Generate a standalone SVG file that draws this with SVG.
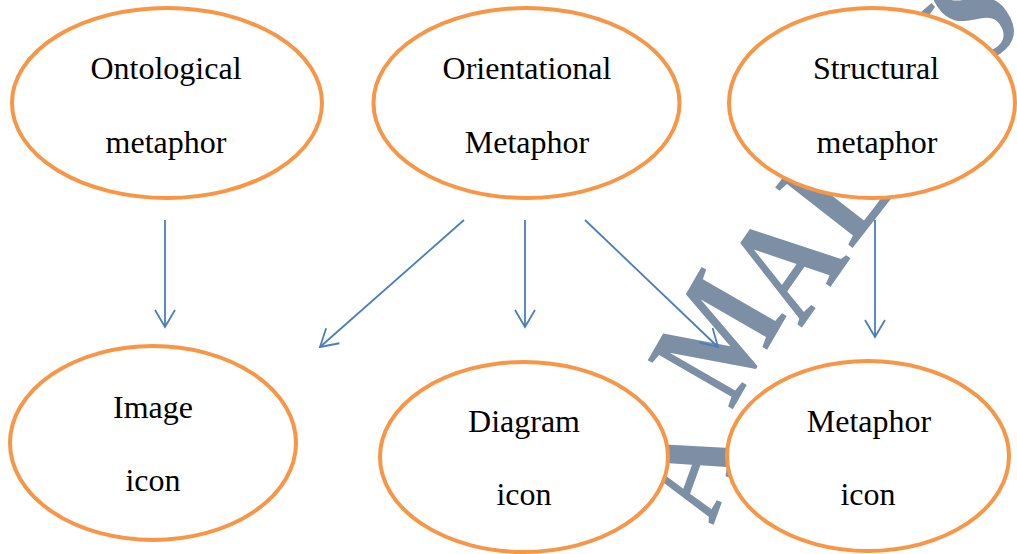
<svg xmlns="http://www.w3.org/2000/svg" width="1017" height="554" viewBox="0 0 1017 554">
<style>
.wm{font-family:"Liberation Serif",serif;font-size:150px;font-weight:bold;fill:#7d8fa4;text-anchor:middle}
.node ellipse{fill:#ffffff;stroke:#F79646;stroke-width:4}
.node text{font-family:"Liberation Serif","Times New Roman",serif;font-size:32px;fill:#000000;text-anchor:middle}
.conn line{stroke:#4a7ebb;stroke-width:1.8;fill:none}
</style>
<defs>
<marker id="arr" markerUnits="userSpaceOnUse" markerWidth="30" markerHeight="30" refX="0" refY="0" viewBox="-20 -15 25 30" orient="auto">
<path d="M-17,-10 L0,0 L-17,10" fill="none" stroke="#4a7ebb" stroke-width="1.8"/>
</marker>
</defs>
<rect width="1017" height="554" fill="#ffffff"/>
<g id="watermark">
<text class="wm" transform="translate(728,485) rotate(-70) scale(0.8,1)">A</text>
<text class="wm" transform="translate(760,362) rotate(-60) scale(0.8,1)">M</text>
<text class="wm" transform="translate(826,293) rotate(-55) scale(0.8,1)">A</text>
<text class="wm" transform="translate(876,218) rotate(-52) scale(0.8,1)">L</text>
<text class="wm" transform="translate(922,162) rotate(-47) scale(0.8,1)">A</text>
<text class="wm" transform="translate(965,104) rotate(-41) scale(0.8,1)">Y</text>
<text class="wm" transform="translate(1000,52) rotate(-34) scale(0.8,1)">S</text>
</g>
<g id="connectors" class="conn">
<line x1="165" y1="220" x2="165" y2="327" marker-end="url(#arr)"/>
<line x1="464" y1="220" x2="320" y2="347" marker-end="url(#arr)"/>
<line x1="525" y1="220" x2="525" y2="327" marker-end="url(#arr)"/>
<line x1="585" y1="220" x2="718" y2="347" marker-end="url(#arr)"/>
<line x1="875" y1="220" x2="875" y2="337" marker-end="url(#arr)"/>
</g>
<g id="ontological" class="node">
<ellipse cx="167" cy="103" rx="155" ry="95"/>
<text x="166" y="79">Ontological</text>
<text x="166" y="153">metaphor</text>
</g>
<g id="orientational" class="node">
<ellipse cx="526.5" cy="103" rx="153" ry="95"/>
<text x="527" y="79">Orientational</text>
<text x="527" y="153">Metaphor</text>
</g>
<g id="structural" class="node">
<ellipse cx="872" cy="103" rx="143" ry="95"/>
<text x="876" y="79">Structural</text>
<text x="877" y="153">metaphor</text>
</g>
<g id="image-icon" class="node">
<ellipse cx="153" cy="443" rx="143" ry="97"/>
<text x="153" y="418">Image</text>
<text x="153" y="491">icon</text>
</g>
<g id="diagram-icon" class="node">
<ellipse cx="524" cy="457" rx="144" ry="95"/>
<text x="524" y="432">Diagram</text>
<text x="524" y="505">icon</text>
</g>
<g id="metaphor-icon" class="node">
<ellipse cx="868" cy="456" rx="141" ry="95"/>
<text x="869" y="432">Metaphor</text>
<text x="868" y="505">icon</text>
</g>
</svg>
